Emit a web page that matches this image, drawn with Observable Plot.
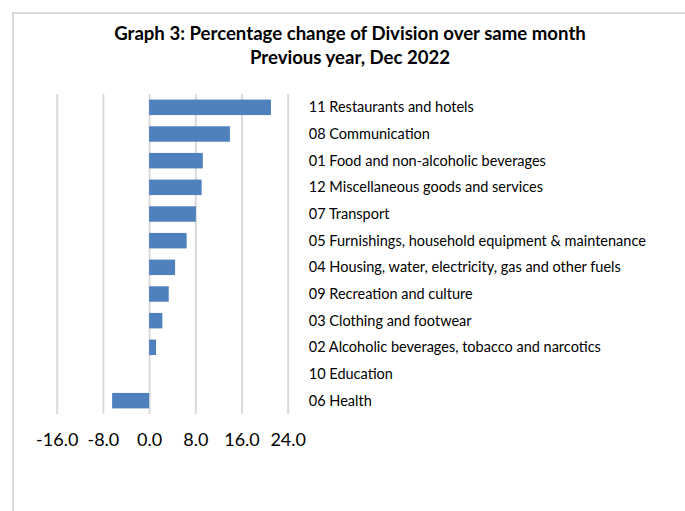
<!DOCTYPE html>
<html>
<head>
<meta charset="utf-8">
<script src="https://cdn.jsdelivr.net/npm/d3@7"></script>
<script src="https://cdn.jsdelivr.net/npm/@observablehq/plot@0.6"></script>
<style>
  html, body { margin: 0; padding: 0; background: #fff; }
  #wrap { position: relative; width: 685px; height: 511px; overflow: hidden; font-family: Lato, "Open Sans", sans-serif; }
  #frame { position: absolute; left: 12px; top: 12px; width: 700px; height: 520px; border-left: 2px solid #d9d9d9; border-top: 2px solid #d9d9d9; box-sizing: border-box; }
  #title { position: relative; height: 80px; box-sizing: border-box; padding-top: 21px; text-align: center; font-weight: bold; font-size: 18.6px; line-height: 24px; color: #000; padding-left: 15px; white-space: nowrap; }
  #chart { position: relative; }
</style>
</head>
<body>
<div id="wrap">
  <div id="frame"></div>
  <div id="title">Graph 3: Percentage change of Division over same month<br>Previous year, Dec 2022</div>
  <div id="chart"></div>
</div>
<script>
const categories = [
  "11 Restaurants and hotels",
  "08 Communication",
  "01 Food and non-alcoholic beverages",
  "12 Miscellaneous goods and services",
  "07 Transport",
  "05 Furnishings, household equipment & maintenance",
  "04 Housing, water, electricity, gas and other fuels",
  "09 Recreation and culture",
  "03 Clothing and footwear",
  "02 Alcoholic beverages, tobacco and narcotics",
  "10 Education",
  "06 Health"
];
const values = [21.1, 14.0, 9.3, 9.1, 8.1, 6.5, 4.5, 3.4, 2.3, 1.2, 0.0, -6.4];
const xTicks = [-16, -8, 0, 8, 16, 24];

const data = categories.map((c, i) => ({category: c, value: values[i]}));

const chart = Plot.plot({
  width: 685,
  height: 431,
  marginTop: 14,
  marginBottom: 97,
  marginLeft: 56.7,
  marginRight: 397.3,
  style: {background: "transparent", color: "#000", fontFamily: "Lato, 'Open Sans', sans-serif"},
  x: {domain: [-16, 24], ticks: xTicks, tickFormat: d => d.toFixed(1), label: null},
  y: {domain: categories, padding: 0, round: false, label: null},
  marks: [
    Plot.ruleX(xTicks, {stroke: "#d9d9d9", strokeWidth: 2}),
    Plot.barX(data, {x: "value", y: "category", fill: "#4f81bd", insetTop: 5.6, insetBottom: 5.6}),
    Plot.axisX({ticks: xTicks, tickFormat: d => d.toFixed(1), tickSize: 0, tickPadding: 19, fontSize: 18, label: null}),
    Plot.axisY({anchor: "right", tickSize: 0, tickPadding: 20.6, fontSize: 14.5, label: null, textAnchor: "start"})
  ]
});
document.getElementById("chart").appendChild(chart);
</script>
</body>
</html>
